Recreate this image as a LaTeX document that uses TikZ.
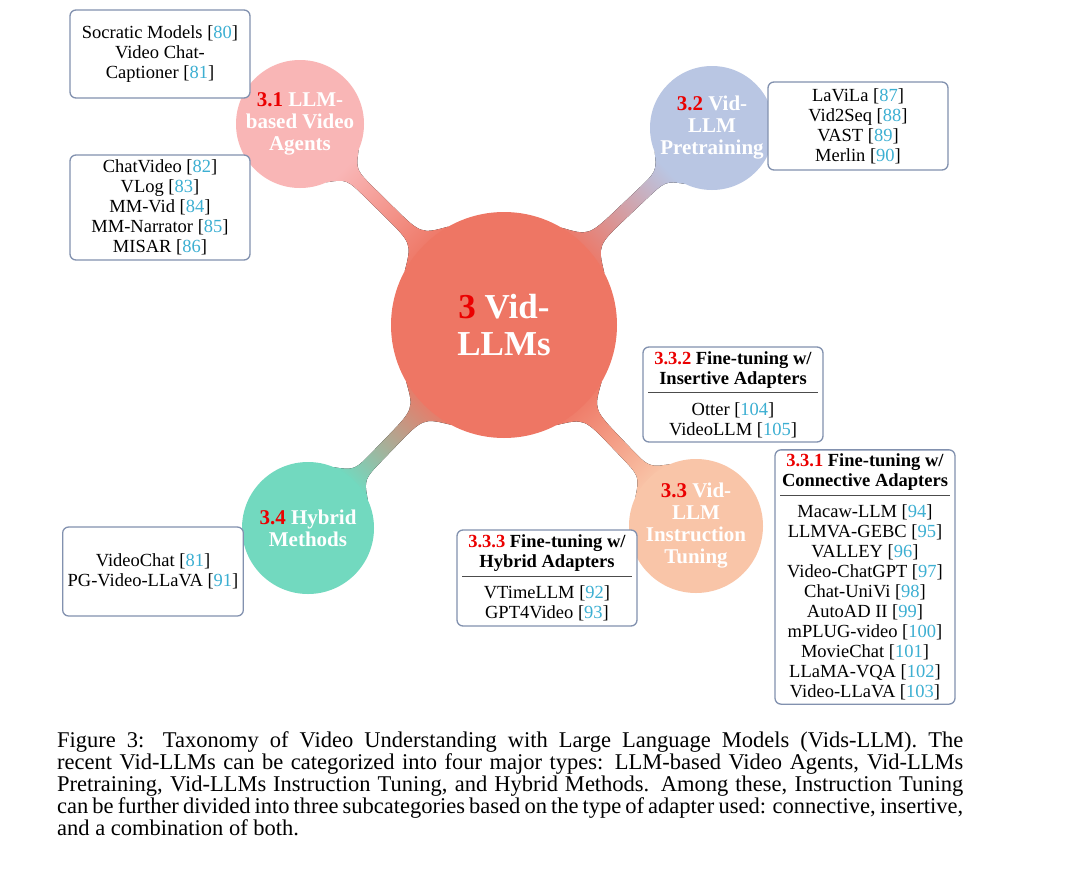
\documentclass[tikz,border=0pt]{standalone}
\usepackage{fontspec}
\setmainfont{Liberation Serif}
\usetikzlibrary{calc,backgrounds}
\definecolor{cmain}{RGB}{238,118,100}
\definecolor{cone}{RGB}{249,182,182}
\definecolor{ctwo}{RGB}{185,198,227}
\definecolor{cthree}{RGB}{249,197,168}
\definecolor{cfour}{RGB}{114,217,191}
\definecolor{boxline}{RGB}{130,145,175}
\definecolor{refc}{RGB}{60,175,210}
\definecolor{numred}{RGB}{235,0,0}
\newcommand{\rf}[1]{[\textcolor{refc}{#1}]}
\newcommand{\sn}[1]{\textcolor{numred}{#1}}
\newcommand{\hrul}{\\[-5pt]\textcolor{black!70}{\rule[6pt]{170pt}{0.9pt}}\\[-4pt]}
% tapered connector: #1,#2 nodes, #3,#4 radii, #5,#6 colours, #7 shading angle
\newcommand{\conbar}[7]{%
  \fill[top color=#6, bottom color=#5, shading angle=#7]
    ($(#1)!#3!16:(#2)$)
    .. controls ($ ($(#1)!#3+10pt!(#2)$)!6.5pt!90:(#2) $) .. ($ ($(#1)!#3+50pt!(#2)$)!6.5pt!90:(#2) $)
    -- ($ ($(#2)!#4+36pt!(#1)$)!6.5pt!90:(#2) $)
    .. controls ($ ($(#2)!#4+8pt!(#1)$)!6.5pt!90:(#2) $) .. ($(#2)!#4!-21:(#1)$)
    -- ($(#2)!#4!21:(#1)$)
    .. controls ($ ($(#2)!#4+8pt!(#1)$)!6.5pt!-90:(#2) $) .. ($ ($(#2)!#4+36pt!(#1)$)!6.5pt!-90:(#2) $)
    -- ($ ($(#1)!#3+50pt!(#2)$)!6.5pt!-90:(#2) $)
    .. controls ($ ($(#1)!#3+10pt!(#2)$)!6.5pt!-90:(#2) $) .. ($(#1)!#3!-16:(#2)$)
    -- cycle;}
\begin{document}
\begin{tikzpicture}[x=1pt,y=1pt,
  bubble/.style={circle, inner sep=0pt, align=center, text=white,
    font=\bfseries\fontsize{21}{22}\selectfont},
  box/.style={draw=boxline, fill=white, rounded corners=6pt, line width=1.3pt,
    minimum width=180pt, inner xsep=5pt, inner ysep=4pt, align=center,
    font=\fontsize{18.5}{20}\selectfont},
  captext/.style={anchor=north west, inner sep=0pt, text width=906pt, align=justify,
    font=\fontsize{22.5}{22}\selectfont}
]
\path[use as bounding box] (0,0) rectangle (1080,-873);
% circles
\node[bubble, fill=cmain, minimum size=226pt, font=\bfseries\fontsize{35}{37}\selectfont] (root) at (504,-325) {\sn{3} Vid-\\LLMs};
\node[bubble, fill=cone, minimum size=128pt] (agents) at (300,-124) {\sn{3.1} LLM-\\based Video\\Agents};
\node[bubble, fill=ctwo, minimum size=124pt] (pretrain) at (712,-128) {\sn{3.2} Vid-\\LLM\\Pretraining};
\node[bubble, fill=cthree, minimum size=134pt] (tuning) at (696,-526) {\sn{3.3} Vid-\\LLM\\Instruction\\Tuning};
\node[bubble, fill=cfour, minimum size=132pt] (hybrid) at (308,-528) {\sn{3.4} Hybrid\\Methods};
% connectors
\begin{scope}[on background layer]
\fill[white] (0,0) rectangle (1080,-873);
\conbar{root}{agents}{113pt}{64pt}{cmain}{cone}{45.4}
\conbar{root}{pretrain}{113pt}{62pt}{cmain}{ctwo}{-46.6}
\conbar{root}{tuning}{113pt}{67pt}{cmain}{cthree}{-136.3}
\conbar{root}{hybrid}{113pt}{66pt}{cmain}{cfour}{136}
\end{scope}
% boxes
\node[box, minimum height=88pt] (b1) at (160,-54) {Socratic Models \rf{80}\\Video Chat-\\Captioner \rf{81}};
\node[box, minimum height=105pt] (b2) at (160,-207.5) {ChatVideo \rf{82}\\VLog \rf{83}\\MM-Vid \rf{84}\\MM-Narrator \rf{85}\\MISAR \rf{86}};
\node[box, minimum height=88pt] (b3) at (858,-126) {LaViLa \rf{87}\\Vid2Seq \rf{88}\\VAST \rf{89}\\Merlin \rf{90}};
\node[box, minimum height=95pt] (b4) at (733,-394.5) {\textbf{\sn{3.3.2} Fine-tuning w/}\\\textbf{Insertive Adapters}\hrul Otter \rf{104}\\VideoLLM \rf{105}};
\node[box, minimum height=254pt] (b5) at (865,-577) {\textbf{\sn{3.3.1} Fine-tuning w/}\\\textbf{Connective Adapters}\hrul Macaw-LLM \rf{94}\\LLMVA-GEBC \rf{95}\\VALLEY \rf{96}\\Video-ChatGPT \rf{97}\\Chat-UniVi \rf{98}\\AutoAD II \rf{99}\\mPLUG-video \rf{100}\\MovieChat \rf{101}\\LLaMA-VQA \rf{102}\\Video-LLaVA \rf{103}};
\node[box, minimum height=96pt] (b6) at (547,-578) {\textbf{\sn{3.3.3} Fine-tuning w/}\\\textbf{Hybrid Adapters}\hrul VTimeLLM \rf{92}\\GPT4Video \rf{93}};
\node[box, minimum height=89pt] (b7) at (153,-571.5) {VideoChat \rf{81}\\PG-Video-LLaVA \rf{91}};
% caption
\node[captext] (caption) at (57,-731) {Figure 3: Taxonomy of Video Understanding with Large Language Models (Vids-LLM). The\linebreak recent Vid-LLMs can be categorized into four major types: LLM-based Video Agents, Vid-LLMs\linebreak Pretraining, Vid-LLMs Instruction Tuning, and Hybrid Methods. Among these, Instruction Tuning\linebreak can be further divided into three subcategories based on the type of adapter used: connective, insertive,\linebreak and a combination of both.};
\end{tikzpicture}
\end{document}
